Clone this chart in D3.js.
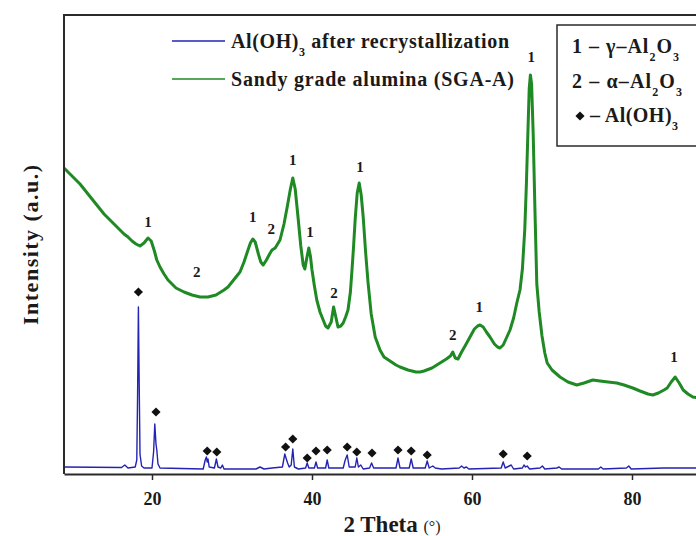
<!DOCTYPE html>
<html>
<head>
<meta charset="utf-8">
<script src="https://cdn.jsdelivr.net/npm/d3@7"></script>
<style>
  html, body { margin: 0; padding: 0; background: #fff; }
  svg { display: block; }
  text { font-family: "Liberation Serif", "Times New Roman", serif; fill: #1a1a1a; }
</style>
</head>
<body>
<svg id="chart" width="696" height="536"></svg>
<script>
// XRD pattern of sandy grade alumina (SGA-A): [2θ, intensity]
const sgaPattern = [
  [9,306],[9.5,302],[10,298],[10.5,294],[11,290],[11.5,285],[12,280],[12.5,275],[13,270],[13.5,265],
  [14,260],[14.5,256],[15,252],[15.5,248],[16,244],[16.5,240],[17,237],[17.5,233],[18,230],[18.5,228],
  [19,231],[19.5,236],[19.9,233],[20.3,223],[20.6,214],[21,207],[21.5,200],[22,194],[22.5,190],[23,186],
  [23.5,184],[24,182],[25,179],[26,177],[27,177],[28,179],[29,184],[29.5,187],[30,192],[30.5,197],
  [31,202],[31.5,212],[32,224],[32.3,231],[32.6,235],[32.9,232],[33.3,220],[33.6,212],[33.9,209],[34.3,214],
  [34.7,220],[35,224],[35.4,226],[36,234],[36.5,250],[36.9,267],[37.3,285],[37.6,296],[37.9,285],[38.25,257],
  [38.6,228],[38.9,209],[39.1,205],[39.35,216],[39.6,226],[39.8,218],[40,204],[40.3,188],[40.6,174],[41,162],
  [41.4,154],[41.7,148],[42,146],[42.4,152],[42.7,167],[42.95,158],[43.25,147],[43.6,148],[43.9,151],[44.2,157],
  [44.5,164],[44.8,182],[45,204],[45.2,228],[45.4,255],[45.65,281],[45.9,291],[46.15,279],[46.4,257],[46.7,222],
  [47,192],[47.4,160],[47.9,137],[48.5,124],[49,117],[49.75,113],[50.5,109],[51,107],[52,104],[53,102],
  [53.5,102],[54,103],[55,106],[56,111],[56.8,115],[57.3,118],[57.6,122],[57.9,116],[58.25,115],[58.7,122],
  [59.2,129],[59.75,137],[60.3,145],[60.7,148],[61,149],[61.4,147],[61.8,142],[62.25,137],[62.8,130],[63.2,127],
  [63.5,126],[63.9,129],[64.3,136],[64.75,144],[65.2,156],[65.6,171],[66,184],[66.3,205],[66.6,245],[66.8,290],
  [67,345],[67.15,385],[67.3,399],[67.45,390],[67.65,340],[67.85,270],[68.1,190],[68.4,162],[68.75,138],[69.1,121],
  [69.4,111],[70,104],[71,97],[72,92],[73.1,89],[74,91],[75.1,94],[76,93],[77,92],[78.1,91],
  [79,89],[80.1,86],[81,83],[82,80],[82.6,79],[83.3,81],[84,84],[84.4,86],[84.9,92],[85.4,97],
  [85.9,91],[86.4,84],[87,80],[87.6,77],[88.5,76],[90,75]
];

// XRD pattern of Al(OH)3 after recrystallization: [2θ, intensity]
const gibbsitePattern = [
  [9,7],[16.2,6.5],[16.6,9],[17,6],[17.9,7],[18.1,14],[18.2,80],[18.3,167],[18.4,90],[18.5,20],
  [18.7,8],[19,6],[20,6],[20.2,22],[20.35,50],[20.5,30],[20.6,24],[20.75,10],[21,6],[26.4,5],
  [26.65,14],[26.8,17],[26.9,12],[27,15],[27.15,7],[27.8,6],[28.05,15],[28.25,7],[28.6,6],[28.8,9],
  [29,5],[33,5],[33.5,7],[34,5],[35,6],[36.3,7],[36.6,20],[36.75,16],[36.95,11],[37.15,7],
  [37.4,9],[37.6,25],[37.8,7],[38.3,5],[39.2,6],[39.4,11],[39.6,6],[40.3,6],[40.5,12],[40.7,6],
  [41.7,6],[41.9,14],[42.1,6],[43.9,6],[44.15,14],[44.4,19],[44.65,7],[45.4,7],[45.6,16],[45.8,7],
  [46.1,9],[46.4,5],[47.2,6],[47.45,11],[47.7,6],[50.5,6],[50.75,16],[51,6],[52.15,6],[52.4,15],
  [52.65,6],[54.15,6],[54.4,13],[54.65,6],[55.1,8],[55.4,6],[56.2,5],[58.4,6],[58.7,8],[59,6],
  [59.3,7],[59.6,5],[63.65,6],[63.9,12],[64.15,6],[64.9,9],[65.2,5],[66.3,6],[66.5,9],[66.7,7],
  [66.9,8],[67.2,5],[68.5,6],[68.8,8],[69.1,5],[70.6,6],[70.9,7],[71.2,5],[75.8,5],[76.1,7],
  [76.4,5],[79.3,6],[79.6,8],[79.9,5],[84,6],[90,6]
];

// Al(OH)3 reflections marked with diamonds: [2θ, marker height]
const gibbsiteMarks = [
  [18.3,182],[20.5,62],[26.9,23],[28.1,22],[36.7,27],[37.6,35],[39.4,16],[40.5,23],[41.9,24],
  [44.4,27],[45.6,22],[47.5,21],[50.75,24],[52.4,23],[54.4,19],[63.9,20],[66.9,18]
];

// Alumina phase labels on the SGA-A pattern: [2θ, label height, phase]
const phaseLabels = [
  [19.5,252,"1"],[25.6,202,"2"],[32.6,257,"1"],[34.9,245,"2"],[37.6,314,"1"],[39.75,242,"1"],
  [42.75,181,"2"],[46.0,307,"1"],[57.6,139,"2"],[60.9,167,"1"],[67.4,417,"1"],[85.25,117,"1"]
];

const xTicks = [20, 40, 60, 80];
const seriesColors = ["#2323b4", "#1f8a24"];

const svg = d3.select("#chart");
const plot = { left: 64, top: 15, bottom: 474, right: 712 };

const x = d3.scaleLinear().domain([9, 90]).range([plot.left, plot.right]);
const y = d3.scaleLinear().domain([0, 459]).range([plot.bottom, plot.top]);

const line = d3.line().x(d => x(d[0])).y(d => y(d[1]));

// patterns
svg.append("path").datum(sgaPattern)
  .attr("d", line).attr("fill", "none")
  .attr("stroke", seriesColors[1]).attr("stroke-width", 3).attr("stroke-linejoin", "round");
svg.append("path").datum(gibbsitePattern)
  .attr("d", line).attr("fill", "none")
  .attr("stroke", seriesColors[0]).attr("stroke-width", 1.4).attr("stroke-linejoin", "round");

// diamond marker shape
const diamond = {
  draw(ctx, size) {
    const r = Math.sqrt(size / 2);
    ctx.moveTo(0, -r); ctx.lineTo(r, 0); ctx.lineTo(0, r); ctx.lineTo(-r, 0); ctx.closePath();
  }
};
const diamondPath = d3.symbol(diamond, 42)();

svg.append("g").selectAll("path").data(gibbsiteMarks).join("path")
  .attr("d", diamondPath)
  .attr("transform", d => `translate(${x(d[0])},${y(d[1])})`)
  .attr("fill", "#111");

svg.append("g").selectAll("text").data(phaseLabels).join("text")
  .attr("x", d => x(d[0])).attr("y", d => y(d[1]))
  .attr("text-anchor", "middle").attr("dominant-baseline", "central")
  .attr("font-size", 15).attr("font-weight", "bold")
  .text(d => d[2]);

// frame
const frame = svg.append("g").attr("stroke", "#2a2a2a").attr("stroke-width", 2);
frame.append("line").attr("x1", plot.left).attr("x2", plot.left).attr("y1", plot.top - 1).attr("y2", plot.bottom);
frame.append("line").attr("x1", plot.left - 1).attr("x2", plot.right).attr("y1", plot.top).attr("y2", plot.top);

// bottom axis
const xAxis = svg.append("g")
  .attr("transform", `translate(0,${plot.bottom})`)
  .call(d3.axisBottom(x).tickValues(xTicks).tickSize(6).tickSizeOuter(0).tickPadding(12));
xAxis.select(".domain").attr("stroke", "#2a2a2a").attr("stroke-width", 2);
xAxis.selectAll(".tick line").attr("stroke", "#2a2a2a").attr("stroke-width", 1.5);
xAxis.selectAll(".tick text")
  .attr("font-family", "'Liberation Serif', serif").attr("font-size", 18).attr("font-weight", "bold")
  .attr("fill", "#1a1a1a");

// axis titles
const xTitle = svg.append("text").attr("x", 392).attr("y", 532).attr("text-anchor", "middle")
  .attr("font-weight", "bold").attr("font-size", 23);
xTitle.append("tspan").text("2 Theta ");
xTitle.append("tspan").attr("font-size", 16).attr("font-weight", "normal").text("(°)");

svg.append("text")
  .attr("transform", "translate(38,245) rotate(-90)")
  .attr("text-anchor", "middle")
  .attr("font-size", 22).attr("font-weight", "bold")
  .attr("textLength", 160)
  .text("Intensity (a.u.)");

// chemical formula text: plain runs and subscripts
function formula(sel, parts, size) {
  sel.attr("font-size", size);
  let shift = 0;
  parts.forEach(p => {
    const s = sel.append("tspan");
    if (p.sub) {
      const drop = size * 0.42;
      s.attr("font-size", size * 0.6).attr("dy", drop - shift).text(p.sub);
      shift = drop;
    } else {
      s.attr("dy", -shift).text(p.t);
      shift = 0;
    }
  });
}

// series legend
const legendRows = [
  { y: 41, width: 278, parts: [{ t: "Al(OH)" }, { sub: "3" }, { t: " after recrystallization" }] },
  { y: 79, width: 283, parts: [{ t: "Sandy grade alumina (SGA-A)" }] }
];
legendRows.forEach((row, i) => {
  svg.append("line").attr("x1", 172).attr("x2", 225).attr("y1", row.y).attr("y2", row.y)
    .attr("stroke", seriesColors[i]).attr("stroke-width", 1.6);
  const t = svg.append("text").attr("x", 231).attr("y", row.y + 7).attr("font-weight", "bold")
    .attr("textLength", row.width);
  formula(t, row.parts, 20);
});

// phase legend
svg.append("rect").attr("x", 557).attr("y", 25).attr("width", 160).attr("height", 121)
  .attr("fill", "#fff").attr("stroke", "#2a2a2a").attr("stroke-width", 1.5);
const phaseRows = [
  { y: 53, x: 572, width: 107, parts: [{ t: "1 \u2013 \u03b3\u2013Al" }, { sub: "2" }, { t: "O" }, { sub: "3" }] },
  { y: 88, x: 572, width: 110, parts: [{ t: "2 \u2013 \u03b1\u2013Al" }, { sub: "2" }, { t: "O" }, { sub: "3" }] },
  { y: 122, x: 590, width: 88, parts: [{ t: "\u2013 Al(OH)" }, { sub: "3" }] }
];
phaseRows.forEach(row => {
  const t = svg.append("text").attr("x", row.x).attr("y", row.y).attr("font-weight", "bold")
    .attr("textLength", row.width);
  formula(t, row.parts, 20);
});
svg.append("path").attr("d", diamondPath)
  .attr("transform", "translate(580,116)").attr("fill", "#111");
</script>
</body>
</html>
